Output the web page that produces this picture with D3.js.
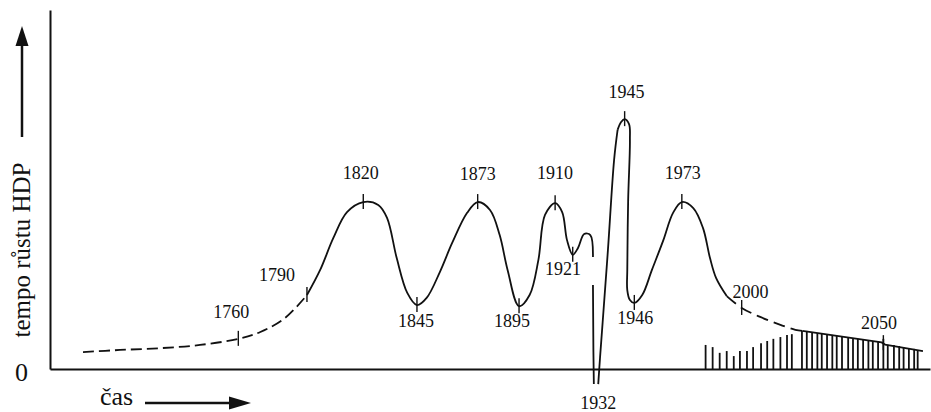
<!DOCTYPE html>
<html>
<head>
<meta charset="utf-8">
<script src="https://cdn.jsdelivr.net/npm/d3@7/dist/d3.min.js"></script>
<style>
  html, body { margin: 0; padding: 0; background: #fff; }
  text { font-family: "Liberation Serif", "DejaVu Serif", serif; fill: #111; }
</style>
</head>
<body>
<div id="chart"></div>
<script>
// schematic time units (0-100) and growth units (0-100)
var earlyPath = [[3.75, 4.7], [7.95, 5.3], [12.5, 5.8], [17.05, 6.7], [21.4, 8.4], [23.9, 10.3], [26.7, 14.2], [29.2, 20.6]];

var wavesPath = [
  [29.2, 20.6], [30.7, 27.6], [32.2, 36.5], [33.75, 43.7], [35.6, 46.5], [37.3, 45.7], [38.3, 42.1],
  [39.4, 30.9], [40.6, 21.2], [41.7, 17.8], [42.8, 19.8], [44.3, 27.0], [45.7, 35.1], [47.4, 43.5],
  [48.6, 46.5], [50.0, 44.3], [51.1, 37.3], [52.0, 27.6], [53.3, 17.5], [54.5, 20.6], [55.5, 30.4],
  [56.25, 42.9], [57.4, 46.2], [58.2, 43.7], [58.75, 35.9], [59.4, 31.8], [60.0, 33.7], [60.7, 37.6],
  [61.4, 37.3], [61.7, 31.2]
];

// 1932 slump: two strokes crossing below the axis
var slumpDown = [[61.7, 23.4], [61.75, 5.0], [61.8, -4.2]];
var slumpUp = [[62.3, -4.2], [62.5, 3.0], [62.8, 13.0], [63.4, 33.1], [64.1, 58.2], [64.5, 66.6]];

var postwarPath = [
  [64.5, 66.6], [64.9, 68.8], [65.3, 69.6], [65.8, 68.2], [65.9, 63.8], [65.7, 47.1], [65.6, 27.6],
  [65.6, 22.0], [65.9, 19.2], [66.4, 18.4], [67.3, 20.6], [68.4, 27.6], [69.7, 35.9], [70.8, 43.5],
  [71.8, 46.5], [73.1, 44.8], [74.2, 39.3], [75.0, 30.9], [75.7, 25.3], [76.9, 20.3]
];

var outlookPath = [[76.9, 20.3], [78.6, 17.0], [80.7, 14.5], [83.0, 12.3], [84.7, 10.9], [85.5, 10.6]];

var roofPath = [[85.5, 10.6], [94.5, 7.4], [94.9, 6.8], [99.2, 5.0]];

// forecast bars
var barT = [74.5, 75.3, 76.1, 76.9, 77.7, 78.4, 79.2, 79.9, 80.8, 81.5, 82.2, 83.0, 83.75, 84.3,
  85.45, 86.0, 86.6, 87.2, 87.7, 88.3, 88.9, 89.4, 90.0, 90.7, 91.25, 91.8, 92.4, 93.0, 93.5, 94.1,
  94.7, 95.2, 95.9, 96.5, 97.0, 97.6, 98.2, 98.6];
var barV = [6.7, 6.1, 4.5, 5.0, 3.6, 5.0, 5.0, 6.1, 7.2, 7.8, 8.4, 8.9, 9.5, 9.7,
  10.6, 10.6, 10.3, 10.0, 10.0, 9.7, 9.5, 9.2, 9.2, 8.9, 8.6, 8.4, 8.1, 7.8, 7.8, 7.5,
  8.4, 6.7, 6.7, 6.4, 6.1, 5.8, 5.6, 5.3];

// year labels
var years = ["1760", "1790", "1820", "1845", "1873", "1895", "1910", "1921", "1932", "1945", "1946", "1973", "2000", "2050"];
var labelT = [20.6, 25.8, 35.3, 41.6, 48.6, 52.5, 57.4, 58.3, 62.3, 65.5, 66.5, 71.9, 79.6, 94.2];
var labelV = [15.9, 26.2, 54.6, 13.4, 54.3, 13.4, 54.6, 28.0, -9.5, 77.2, 14.2, 54.6, 21.4, 12.8];
var tickT = [21.4, 29.2, 35.6, 41.7, 48.6, 53.3, 57.4, 59.4, null, 65.3, 66.4, 71.8, 78.6, 94.7];
var tickV = [8.4, 20.6, 46.5, 17.8, 46.5, 17.5, 46.2, 31.8, null, 69.6, 18.4, 46.5, 17.0, 7.2];

var width = 931,
  height = 412,
  margin = { top: 10, right: 1, bottom: 43, left: 50 },
  ink = "#111";

var svg = d3
  .select("#chart")
  .append("svg")
  .attr("width", width)
  .attr("height", height)
  .append("g")
  .attr("transform", `translate(${margin.left},${margin.top})`);

var xScale = d3.scaleLinear().domain([0, 100]).range([0, width - margin.left - margin.right]);
var yScale = d3.scaleLinear().domain([0, 100]).range([height - margin.top - margin.bottom, 0]);

var line = d3
  .line()
  .x((d) => xScale(d[0]))
  .y((d) => yScale(d[1]))
  .curve(d3.curveCatmullRom.alpha(0.5));

// bars
svg
  .selectAll(".bar")
  .data(barT)
  .enter()
  .append("line")
  .attr("class", "bar")
  .attr("x1", (d) => xScale(d))
  .attr("x2", (d) => xScale(d))
  .attr("y1", yScale(0))
  .attr("y2", (d, i) => yScale(barV[i]))
  .attr("stroke", ink)
  .attr("stroke-width", 1.8);

// axes
var xAxis = d3.axisBottom(xScale).tickValues([]).tickSizeOuter(0);
var yAxis = d3
  .axisLeft(yScale)
  .tickValues([0])
  .tickSize(0)
  .tickSizeOuter(0)
  .tickPadding(22)
  .tickFormat(d3.format("d"));

svg
  .append("g")
  .attr("class", "x axis")
  .attr("transform", `translate(0,${yScale(0)})`)
  .call(xAxis)
  .call((g) => g.select(".domain").attr("stroke", ink).attr("stroke-width", 2));

svg
  .append("g")
  .attr("class", "y axis")
  .call(yAxis)
  .call((g) => g.select(".domain").attr("stroke", ink).attr("stroke-width", 2))
  .call((g) =>
    g.selectAll("text").attr("font-size", 26).attr("font-family", "Liberation Serif").attr("dy", "0.45em")
  );

// curve segments
function drawPath(pts, dash, gen) {
  svg
    .append("path")
    .datum(pts)
    .attr("d", gen || line)
    .attr("fill", "none")
    .attr("stroke", ink)
    .attr("stroke-width", 1.8)
    .attr("stroke-dasharray", dash);
}
var straight = d3.line().x((d) => xScale(d[0])).y((d) => yScale(d[1]));
drawPath(earlyPath, "11 5");
drawPath(wavesPath, null);
drawPath(slumpDown, null, straight);
drawPath(slumpUp, null);
drawPath(postwarPath, null);
drawPath(outlookPath, "12 6");
drawPath(roofPath, null, straight);

// year ticks on the curve
svg
  .selectAll(".ytick")
  .data(years.filter((d, i) => tickT[i] !== null))
  .enter()
  .append("line")
  .attr("class", "ytick")
  .each(function (d) {
    var i = years.indexOf(d);
    d3.select(this)
      .attr("x1", xScale(tickT[i]))
      .attr("x2", xScale(tickT[i]))
      .attr("y1", yScale(tickV[i]) - 8)
      .attr("y2", yScale(tickV[i]) + 7);
  })
  .attr("stroke", ink)
  .attr("stroke-width", 1.4);

// year labels
svg
  .selectAll(".ylabel")
  .data(years)
  .enter()
  .append("text")
  .attr("class", "ylabel")
  .attr("x", (d, i) => xScale(labelT[i]))
  .attr("y", (d, i) => yScale(labelV[i]))
  .attr("dy", "0.35em")
  .attr("text-anchor", "middle")
  .attr("font-size", 18)
  .text((d) => d);

// axis titles with arrows
var root = d3.select("#chart svg");
root
  .append("text")
  .attr("transform", "translate(30,250) rotate(-90)")
  .attr("text-anchor", "middle")
  .attr("font-size", 25)
  .text("tempo růstu HDP");
root.append("line").attr("x1", 22).attr("x2", 22).attr("y1", 137).attr("y2", 42).attr("stroke", ink).attr("stroke-width", 2.5);
root.append("path").attr("d", "M22,26 L15.5,46 L28.5,46 Z").attr("fill", ink);

root
  .append("text")
  .attr("x", 100)
  .attr("y", 405)
  .attr("font-size", 26)
  .text("čas");
root.append("line").attr("x1", 145).attr("x2", 232).attr("y1", 403).attr("y2", 403).attr("stroke", ink).attr("stroke-width", 2.5);
root.append("path").attr("d", "M251,403 L229,396.5 L229,409.5 Z").attr("fill", ink);
</script>
</body>
</html>
